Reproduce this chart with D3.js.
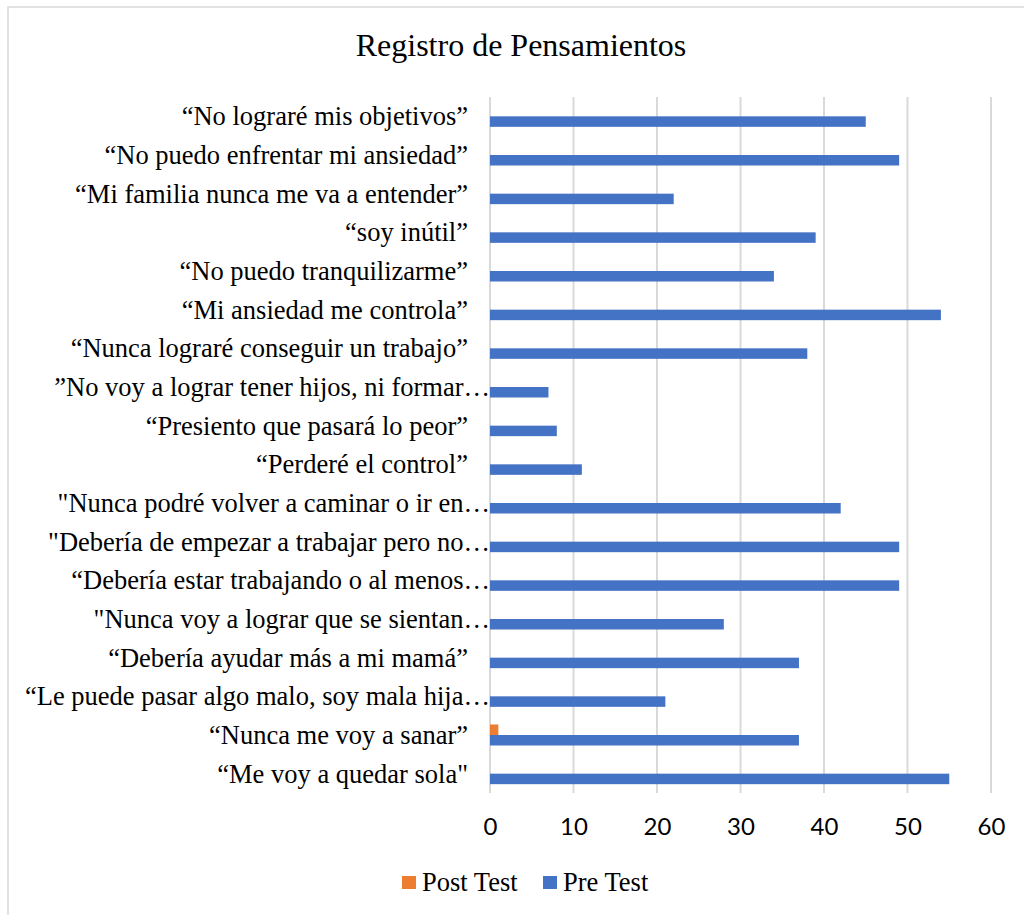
<!DOCTYPE html>
<html>
<head>
<meta charset="utf-8">
<script src="https://cdn.jsdelivr.net/npm/d3@7"></script>
<style>
  body { margin: 0; background: #fff; }
  svg { display: block; }
</style>
</head>
<body>
<div id="chart"></div>
<script>
const FRAME_WIDTH = 1024;
const FRAME_HEIGHT = 915;
const MARGINS = {left: 490, right: 33, top: 97, bottom: 122};

// data, top to bottom as shown
const categories = [
  "“No lograré mis objetivos”",
  "“No puedo enfrentar mi ansiedad”",
  "“Mi familia nunca me va a entender”",
  "“soy inútil”",
  "“No puedo tranquilizarme”",
  "“Mi ansiedad me controla”",
  "“Nunca lograré conseguir un trabajo”",
  "”No voy a lograr tener hijos, ni formar…",
  "“Presiento que pasará lo peor”",
  "“Perderé el control”",
  "\"Nunca podré volver a caminar o ir en…",
  "\"Debería de empezar a trabajar pero no…",
  "“Debería estar trabajando o al menos…",
  "\"Nunca voy a lograr que se sientan…",
  "“Debería ayudar más a mi mamá”",
  "“Le puede pasar algo malo, soy mala hija…",
  "“Nunca me voy a sanar”",
  "“Me voy a quedar sola\""
];
const preTest  = [45, 49, 22, 39, 34, 54, 38, 7, 8, 11, 42, 49, 49, 28, 37, 21, 37, 55];
const postTest = [0, 0, 0, 0, 0, 0, 0, 0, 0, 0, 0, 0, 0, 0, 0, 0, 1, 0];
const seriesNames = ["Post Test", "Pre Test"];
const seriesColors = ["#ed7d31", "#4472c4"];
const xTicks = [0, 10, 20, 30, 40, 50, 60];

const SERIF = "'Liberation Serif', 'Times New Roman', serif";

const VIS_WIDTH = FRAME_WIDTH - MARGINS.left - MARGINS.right;
const VIS_HEIGHT = FRAME_HEIGHT - MARGINS.top - MARGINS.bottom;

const FRAME = d3.select("#chart")
  .append("svg")
    .attr("width", FRAME_WIDTH)
    .attr("height", FRAME_HEIGHT);

// chart border
FRAME.append("rect")
  .attr("x", 8).attr("y", 7)
  .attr("width", 1030).attr("height", 930)
  .attr("fill", "#fff")
  .attr("stroke", "#d9d9d9")
  .attr("stroke-width", 1.5);

// title
FRAME.append("text")
  .attr("x", 521).attr("y", 56)
  .attr("text-anchor", "middle")
  .style("font-family", SERIF)
  .style("font-size", "32px")
  .attr("fill", "#000")
  .text("Registro de Pensamientos");

const X_SCALE = d3.scaleLinear()
  .domain([0, 60])
  .range([MARGINS.left, MARGINS.left + VIS_WIDTH]);

const Y_SCALE = d3.scaleBand()
  .domain(categories)
  .range([MARGINS.top, MARGINS.top + VIS_HEIGHT]);

const SUB = d3.scaleBand()
  .domain(seriesNames)
  .range([Y_SCALE.bandwidth() / 2 - 10.5, Y_SCALE.bandwidth() / 2 + 10.5]);

// gridlines
FRAME.append("g")
  .selectAll("line")
  .data(xTicks)
  .enter()
  .append("line")
    .attr("x1", d => X_SCALE(d)).attr("x2", d => X_SCALE(d))
    .attr("y1", MARGINS.top).attr("y2", MARGINS.top + VIS_HEIGHT)
    .attr("stroke", "#d9d9d9")
    .attr("stroke-width", 2);

// bars
const rows = categories.map((c, i) => ({cat: c, values: [postTest[i], preTest[i]]}));

const groups = FRAME.append("g")
  .selectAll("g")
  .data(rows)
  .enter()
  .append("g")
    .attr("transform", d => "translate(0," + Y_SCALE(d.cat) + ")");

groups.selectAll("rect")
  .data(d => d.values.map((v, k) => ({name: seriesNames[k], value: v, color: seriesColors[k]})))
  .enter()
  .append("rect")
    .attr("x", X_SCALE(0))
    .attr("y", d => SUB(d.name))
    .attr("width", d => X_SCALE(d.value) - X_SCALE(0))
    .attr("height", SUB.bandwidth())
    .attr("fill", d => d.color);

// category labels
FRAME.append("g")
  .selectAll("text")
  .data(categories)
  .enter()
  .append("text")
    .attr("x", d => d.endsWith("…") ? MARGINS.left : MARGINS.left - 22)
    .attr("y", d => Y_SCALE(d) + Y_SCALE.bandwidth() / 2 + 9)
    .attr("text-anchor", "end")
    .style("font-family", SERIF)
    .style("font-size", "26.5px")
    .attr("fill", "#000")
    .text(d => d);

// x axis
const xAxis = FRAME.append("g")
  .attr("transform", "translate(0," + (MARGINS.top + VIS_HEIGHT) + ")")
  .call(d3.axisBottom(X_SCALE).tickValues(xTicks).tickSize(0).tickPadding(25));

xAxis.select(".domain").remove();
xAxis.selectAll("text")
  .style("font-family", "Lato, 'Open Sans', sans-serif")
  .style("font-size", "24px")
  .attr("fill", "#000");

// legend
const legendX = [402, 543];
const legend = FRAME.append("g")
  .selectAll("g")
  .data(seriesNames)
  .enter()
  .append("g")
    .attr("transform", (d, i) => "translate(" + legendX[i] + ",876)");

legend.append("rect")
  .attr("width", 14).attr("height", 13)
  .attr("fill", (d, i) => seriesColors[i]);

legend.append("text")
  .attr("x", 20).attr("y", 15)
  .style("font-family", SERIF)
  .style("font-size", "26.5px")
  .attr("fill", "#000")
  .text(d => d);
</script>
</body>
</html>
